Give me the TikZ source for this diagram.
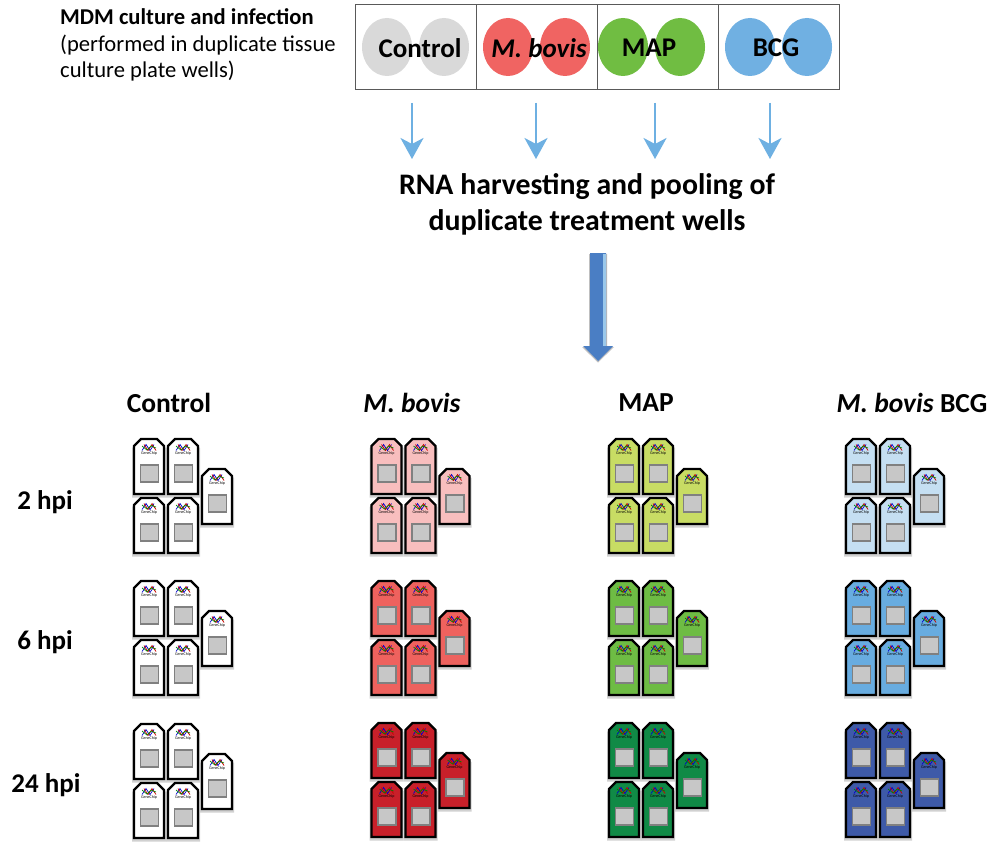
\documentclass[tikz,border=0pt]{standalone}
\usepackage{xcolor}
\usepackage{fontspec}
\setmainfont{Carlito}
\usetikzlibrary{arrows.meta, positioning, shapes.geometric}
\definecolor{wellgrey}{RGB}{217,217,217}
\definecolor{wellred}{RGB}{240,100,98}
\definecolor{wellgreen}{RGB}{112,189,66}
\definecolor{wellblue}{RGB}{112,176,226}
\definecolor{arrowblue}{RGB}{110,176,226}
\definecolor{bigblue}{RGB}{74,126,196}
\definecolor{pinkA}{RGB}{248,190,190}
\definecolor{redB}{RGB}{238,98,94}
\definecolor{redC}{RGB}{200,32,42}
\definecolor{greenA}{RGB}{200,220,100}
\definecolor{greenB}{RGB}{110,188,68}
\definecolor{greenC}{RGB}{16,138,70}
\definecolor{blueA}{RGB}{197,223,242}
\definecolor{blueB}{RGB}{104,172,224}
\definecolor{blueC}{RGB}{62,90,168}
\tikzset{
    chip/.pic={
        \fill[black!18] (-1,10) -- (8,2) -- (24,2) -- (33,10) -- (33,59.5) -- (-1,59.5) -- cycle;
        \draw[line width=2.2pt, fill=chipfill, line join=miter] (1,8) -- (8,1) -- (24,1) -- (31,8) -- (31,56) -- (1,56) -- cycle;
        \draw[black!50, line width=1.2pt, fill=black!22] (7.5,27) rectangle (25.5,44);
        \draw[blue!80!black, line width=0.7pt] (9,12.5) -- (13,6.5) -- (17,12.5) -- (21,6.5);
        \draw[red!80!black, line width=0.7pt] (11,6.5) -- (15,12.5) -- (19,6.5) -- (23,12.5);
        \draw[green!50!black, line width=0.7pt] (9,8) -- (14,12) -- (18,8) -- (23,10);
        \node[font=\fontsize{4}{4}\selectfont, inner sep=0pt] (chiplabel) at (16,15.5) {GeneChip};
    }
}
% five chips of one treatment and time point
\newcommand{\chipgroup}[3]{
    \colorlet{chipfill}{#3}
    \pic at (#1,#2) {chip};
    \pic at (#1+34,#2) {chip};
    \pic at (#1+68,#2+30) {chip};
    \pic at (#1,#2+59) {chip};
    \pic at (#1+34,#2+59) {chip};
}
\begin{document}
\begin{tikzpicture}[
    x=1pt,
    y=-1pt,
    well/.style={draw=none, ellipse, minimum width=50pt, minimum height=58pt, inner sep=0pt},
    cell/.style={draw=black!65, line width=1pt, fill=none, minimum width=121pt, minimum height=85pt, inner sep=0pt},
    welltext/.style={font=\fontsize{27}{30}\selectfont\bfseries},
    header/.style={font=\fontsize{27.5}{30}\selectfont\bfseries},
    hpi/.style={font=\fontsize{27}{30}\selectfont\bfseries},
    connector/.style={-{Stealth[length=21pt, width=23pt, inset=6pt]}, line width=2.5pt, arrowblue}
]
    \useasboundingbox (0,0) rectangle (992,848);
    \fill[white] (0,0) rectangle (992,848);

    % Intro text
    \node[anchor=west, align=left, inner sep=0pt, font=\fontsize{22.6}{26.5}\selectfont] (intro) at (60,45)
        {\textbf{MDM culture and infection}\\(performed in duplicate tissue\\culture plate wells)};

    % Wells
    \node[well, fill=wellgrey] (w1a) at (387,47) {};
    \node[well, fill=wellgrey] (w1b) at (444,47) {};
    \node[well, fill=wellred] (w2a) at (508,47) {};
    \node[well, fill=wellred] (w2b) at (565,47) {};
    \node[well, fill=wellgreen] (w3a) at (623,47) {};
    \node[well, fill=wellgreen] (w3b) at (680,47) {};
    \node[well, fill=wellblue] (w4a) at (750,47) {};
    \node[well, fill=wellblue] (w4b) at (807,47) {};

    % Plate cells
    \node[cell] (cell1) at (415.5,47) {};
    \node[cell] (cell2) at (536.5,47) {};
    \node[cell] (cell3) at (657.5,47) {};
    \node[cell] (cell4) at (778.5,47) {};

    \node[welltext] (t1) at (420,48) {Control};
    \node[welltext] (t2) at (539,48) {\itshape M. bovis};
    \node[welltext] (t3) at (649,48) {MAP};
    \node[welltext] (t4) at (776,48) {BCG};

    % Harvesting step
    \node[align=center, font=\fontsize{29.8}{36}\selectfont\bfseries] (rna) at (587,204.5)
        {RNA harvesting and pooling of\\duplicate treatment wells};

    \coordinate (a1) at (412,103);
    \coordinate (a2) at (536,103);
    \coordinate (a3) at (655,103);
    \coordinate (a4) at (770,103);
    \coordinate (b1) at (412,159);
    \coordinate (b2) at (536,159);
    \coordinate (b3) at (655,159);
    \coordinate (b4) at (770,159);
    \draw[connector] (a1) -- (b1);
    \draw[connector] (a2) -- (b2);
    \draw[connector] (a3) -- (b3);
    \draw[connector] (a4) -- (b4);

    % Big arrow
    \fill[black!25] (589,254) -- (607,254) -- (607,347) -- (614,347) -- (598,362.5) -- (582,347) -- (589,347) -- cycle;
    \fill[bigblue] (590,253) -- (606,253) -- (606,346) -- (613,346) -- (598,361) -- (583,346) -- (590,346) -- cycle;
    \fill[arrowblue!70!white] (603,254) rectangle (606,346);

    % Column headers
    \node[header] (hcontrol) at (169,403) {Control};
    \node[header] (hbovis) at (412,403) {\itshape M. bovis};
    \node[header] (hmap) at (646,403) {MAP};
    \node[header] (hbcg) at (912,403) {\textit{M. bovis} BCG};

    % Row labels
    \node[hpi] (h2) at (45,502) {2 hpi};
    \node[hpi] (h6) at (45,642) {6 hpi};
    \node[hpi] (h24) at (46,785) {24 hpi};

    % Chips
    \chipgroup{133}{438}{white}
    \chipgroup{133}{580}{white}
    \chipgroup{133}{723}{white}
    \chipgroup{370.5}{438}{pinkA}
    \chipgroup{370.5}{580}{redB}
    \chipgroup{370.5}{722}{redC}
    \chipgroup{608}{438}{greenA}
    \chipgroup{608}{580}{greenB}
    \chipgroup{608}{722}{greenC}
    \chipgroup{845}{438}{blueA}
    \chipgroup{845}{580}{blueB}
    \chipgroup{845}{722}{blueC}
\end{tikzpicture}
\end{document}
